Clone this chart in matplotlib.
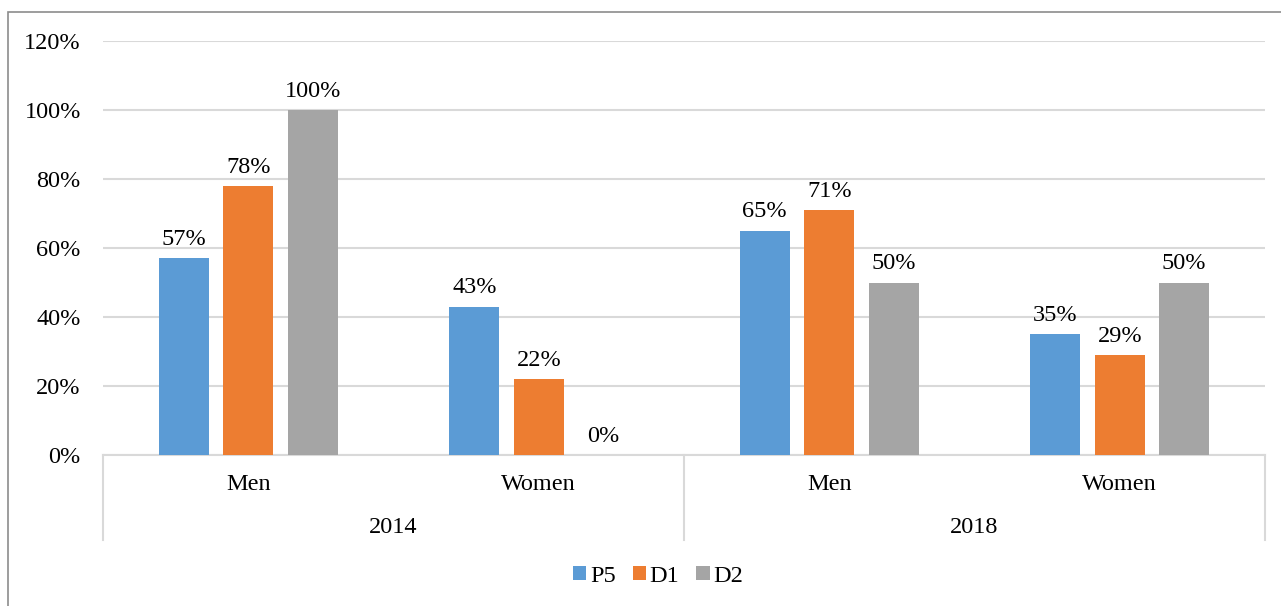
import matplotlib.pyplot as plt
from matplotlib.patches import Rectangle
import numpy as np

years = ['2014', '2018']
groups = ['Men', 'Women', 'Men', 'Women']
series = ['P5', 'D1', 'D2']
p5 = [0.57, 0.43, 0.65, 0.35]
d1 = [0.78, 0.22, 0.71, 0.29]
d2 = [1.00, 0.00, 0.50, 0.50]
colors = ['#5B9BD5', '#ED7D31', '#A5A5A5']

plt.rcParams['font.family'] = ['Liberation Serif', 'DejaVu Serif']
FS = 17.5

fig = plt.figure(figsize=(12.81, 6.06), dpi=100)
ax = fig.add_axes([103 / 1281, 1 - 455 / 606, (1265 - 103) / 1281, (455 - 41) / 606])

# chart border (cropped on right and bottom)
fig.patches.append(Rectangle((8 / 1281, -0.1), 1.2, 1 - 12 / 606 + 0.1,
                             transform=fig.transFigure, fill=False,
                             edgecolor='#8c8c8c', linewidth=1.2))

x = np.arange(len(groups))
width = 0.172
step = 0.222
handles = []
for i, (name, vals) in enumerate(zip(series, [p5, d1, d2])):
    bars = ax.bar(x + (i - 1) * step, vals, width, color=colors[i], label=name, zorder=3)
    handles.append(bars)
    for b, v in zip(bars, vals):
        ax.annotate(f'{v:.0%}', (b.get_x() + b.get_width() / 2, v),
                    xytext=(0, 6), textcoords='offset points',
                    ha='center', va='bottom', fontsize=FS)

ax.set_xlim(-0.5, len(groups) - 0.5)
ax.set_ylim(0, 1.2)
ax.set_yticks(np.arange(0, 1.21, 0.2))
ax.set_yticklabels([f'{t:.0%}' for t in np.arange(0, 1.21, 0.2)], fontsize=FS)
ax.yaxis.grid(True, color='#d9d9d9', linewidth=1.5, zorder=0)
ax.tick_params(axis='y', length=0, pad=16)
ax.tick_params(axis='x', length=0)
ax.set_xticks([])
for s in ['top', 'right', 'left']:
    ax.spines[s].set_visible(False)
ax.spines['bottom'].set_color('#d9d9d9')
ax.spines['bottom'].set_linewidth(1.5)

# two-level category axis
tr = ax.get_xaxis_transform()
for xi, g in zip(x, groups):
    ax.text(xi, -0.072, g, transform=tr, ha='center', va='center', fontsize=FS)
for k, yr in enumerate(years):
    ax.text(2 * k + 0.5, -0.174, yr, transform=tr, ha='center', va='center', fontsize=FS)
for xd in [-0.5, 1.5, 3.5]:
    ax.plot([xd, xd], [0, -0.205], transform=tr, color='#d9d9d9',
            linewidth=1.5, clip_on=False)

fig.legend(handles=handles, labels=series, loc='center', bbox_to_anchor=(658 / 1281, 1 - 576 / 606),
           ncol=3, frameon=False, fontsize=FS, handlelength=0.55, handleheight=0.55,
           handletextpad=0.15, columnspacing=0.7)

fig.savefig('out.png', dpi=100)
